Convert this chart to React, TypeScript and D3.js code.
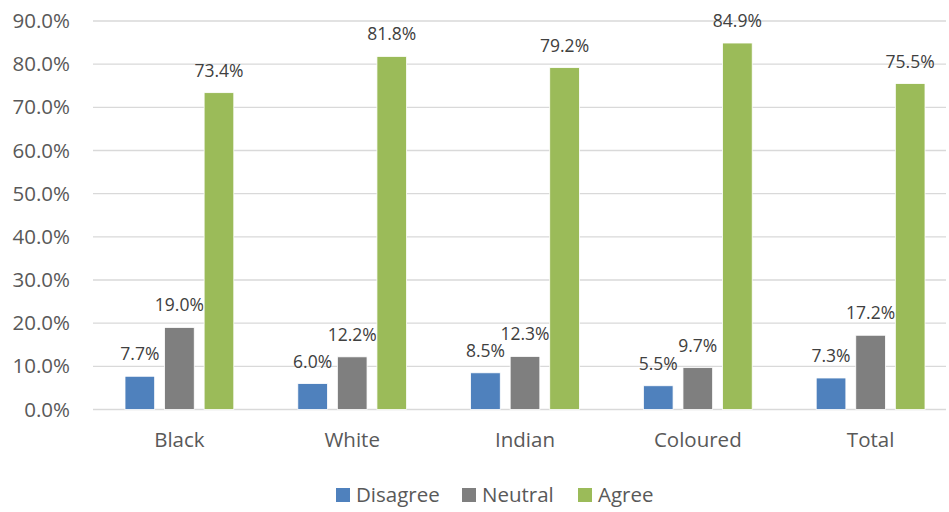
import React from "react";
import * as d3 from "d3";

const categories = ["Black", "White", "Indian", "Coloured", "Total"];
const seriesNames = ["Disagree", "Neutral", "Agree"];
const disagree = [7.7, 6.0, 8.5, 5.5, 7.3];
const neutral = [19.0, 12.2, 12.3, 9.7, 17.2];
const agree = [73.4, 81.8, 79.2, 84.9, 75.5];
const yTicks = [0, 10, 20, 30, 40, 50, 60, 70, 80, 90];
const colors = ["#4F81BD", "#7F7F7F", "#9BBB59"];

export default function App() {
  const W = 949, H = 512;
  const font = "'Open Sans', sans-serif";
  const fs = 20.5;
  const fsLabel = 17.5;
  const values = [disagree, neutral, agree];
  const x = d3.scaleBand<string>().domain(categories).range([93, 957]).paddingInner(0).paddingOuter(0);
  const inner = d3.scaleBand<string>().domain(seriesNames).range([32, x.bandwidth() - 32]).paddingInner(0.25).paddingOuter(0);
  const y = d3.scaleLinear().domain([0, 90]).range([409.5, 21]);
  const legendX = [336, 462, 578];
  return (
    <svg width={W} height={H} style={{ position: "absolute", left: 0, top: 0 }} fontFamily={font}>
      <rect width={W} height={H} fill="#fff" />
      {yTicks.map((t) => (
        <g key={t}>
          <line x1={93} x2={946} y1={y(t)} y2={y(t)} stroke="#D9D9D9" strokeWidth={1.3} />
          <text x={70} y={y(t) + 7} textAnchor="end" fontSize={fs} fill="#595959">{t.toFixed(1)}%</text>
        </g>
      ))}
      {categories.map((c, i) => (
        <g key={c} transform={`translate(${x(c)},0)`}>
          {seriesNames.map((s, j) => {
            const v = values[j][i];
            const bx = inner(s)!;
            return (
              <g key={s}>
                <rect x={bx} y={y(v)} width={inner.bandwidth()} height={y(0) - y(v)} fill={colors[j]} stroke="#fff" strokeWidth={0.8} />
                <text x={bx + inner.bandwidth() / 2} y={y(v) - 16} textAnchor="middle" fontSize={fsLabel} fill="#404040">{v.toFixed(1)}%</text>
              </g>
            );
          })}
          <text x={x.bandwidth() / 2} y={447} textAnchor="middle" fontSize={fs} fill="#595959">{c}</text>
        </g>
      ))}
      {seriesNames.map((s, j) => (
        <g key={s}>
          <rect x={legendX[j]} y={488} width={14} height={14} fill={colors[j]} />
          <text x={legendX[j] + 20} y={502} fontSize={fs} fill="#595959">{s}</text>
        </g>
      ))}
    </svg>
  );
}
